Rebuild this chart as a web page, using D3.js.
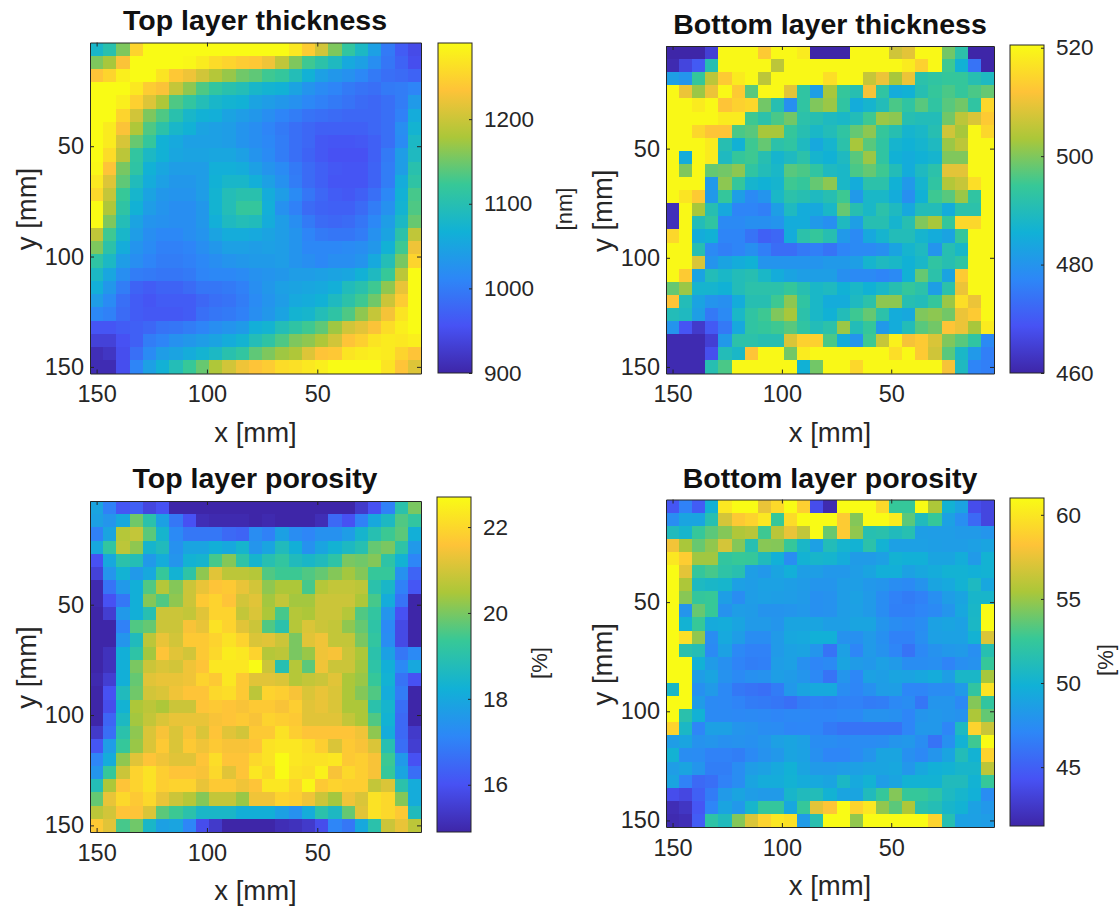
<!DOCTYPE html>
<html>
<head>
<meta charset="utf-8">
<style>
    body { margin: 0; background: #fff; }
    text { font-family: "Liberation Sans", Arial, sans-serif; fill: #262626; }
    .title { font-weight: bold; font-size: 28.5px; fill: #111; text-anchor: middle; }
    .label { font-size: 27.5px; text-anchor: middle; }
    .tick text { font-family: "Liberation Sans", Arial, sans-serif; font-size: 23.5px; fill: #262626; }
    .domain { stroke: #262626; }
    .tick line { stroke: #262626; }
    .cell { shape-rendering: crispEdges; }
</style>
</head>
<body>
<svg id="chart" width="1119" height="906"></svg>
<script src="https://d3js.org/d3.v7.min.js"></script>
<script>
// measurement positions, mm (x axis runs backwards)
var xPositions = [150,144,138,132,126,120,114,108,102,96,90,84,78,72,66,60,54,48,42,36,30,24,18,12,6];
var yPositions = [6,12,18,24,30,36,42,48,54,60,66,72,78,84,90,96,102,108,114,120,126,132,138,144,150];
var axisTicks = [50, 100, 150];

// top layer thickness, nm
var topThickness = [
[1079,1103,1157,1251,1290,1290,1290,1290,1290,1290,1290,1290,1290,1290,1290,1271,1243,1204,1157,1115,1083,1044,998,966,947],
[1157,1177,1232,1290,1290,1290,1290,1286,1274,1259,1251,1243,1239,1224,1193,1157,1126,1107,1087,1056,1044,1021,994,974,951],
[1235,1251,1278,1290,1290,1267,1239,1224,1204,1185,1169,1150,1142,1126,1118,1095,1068,1044,1033,1025,1013,998,986,982,974],
[1290,1290,1290,1271,1243,1232,1196,1165,1134,1115,1103,1095,1079,1072,1068,1048,1029,1017,1009,998,990,986,998,1001,1009],
[1290,1290,1278,1247,1212,1181,1134,1115,1095,1079,1072,1068,1048,1040,1033,1025,1013,1005,998,990,982,978,986,1001,1037],
[1290,1290,1251,1204,1157,1134,1103,1079,1068,1064,1048,1040,1033,1021,1009,1001,990,986,982,978,978,978,986,1005,1060],
[1290,1274,1232,1181,1134,1107,1079,1068,1048,1044,1040,1029,1021,1009,998,986,978,970,970,970,970,978,986,1021,1072],
[1290,1274,1208,1146,1118,1068,1056,1044,1044,1044,1040,1029,1021,1013,1001,986,978,962,959,959,962,970,986,1017,1083],
[1290,1259,1189,1115,1083,1068,1052,1048,1048,1052,1052,1044,1029,1017,1001,986,974,962,955,955,955,970,998,1040,1087],
[1286,1235,1154,1111,1068,1052,1040,1040,1040,1064,1064,1060,1044,1029,1017,998,982,970,962,959,959,974,1001,1040,1103],
[1271,1212,1142,1091,1060,1044,1033,1033,1040,1068,1079,1079,1064,1044,1025,1001,982,970,959,959,959,974,1001,1060,1111],
[1255,1196,1122,1076,1048,1033,1029,1029,1040,1072,1095,1103,1103,1060,1040,1017,994,978,966,962,970,986,1013,1068,1130],
[1290,1181,1111,1068,1040,1029,1021,1021,1033,1072,1095,1118,1118,1064,1025,1005,982,974,970,970,982,1001,1025,1072,1134],
[1290,1157,1095,1048,1029,1025,1021,1021,1033,1064,1087,1095,1091,1060,1040,1021,998,982,978,982,994,1013,1040,1083,1146],
[1193,1126,1079,1040,1021,1013,1013,1021,1029,1048,1060,1060,1056,1048,1040,1029,1009,998,994,994,1001,1025,1048,1107,1193],
[1157,1107,1060,1029,1017,1005,1005,1009,1021,1033,1044,1044,1040,1044,1040,1029,1013,1013,1013,1017,1021,1033,1068,1126,1224],
[1111,1083,1040,1021,1009,1001,1001,1005,1013,1021,1029,1033,1037,1037,1040,1029,1021,1013,1021,1021,1029,1056,1095,1154,1251],
[1083,1052,1021,1001,998,994,994,998,1009,1013,1013,1017,1025,1029,1033,1040,1040,1044,1048,1052,1068,1087,1122,1189,1290],
[1064,1033,1001,974,966,974,974,982,994,994,998,1005,1021,1033,1044,1048,1052,1056,1064,1091,1103,1126,1165,1220,1290],
[1040,1017,986,966,959,966,966,966,978,986,990,1001,1017,1029,1040,1056,1060,1068,1087,1107,1126,1150,1200,1243,1290],
[1013,1005,982,966,962,962,962,966,986,994,998,1005,1021,1033,1048,1072,1076,1095,1111,1134,1165,1196,1228,1267,1290],
[959,959,966,970,978,990,994,1001,1009,1021,1029,1037,1064,1072,1095,1111,1126,1142,1173,1204,1216,1232,1259,1278,1290],
[935,935,955,970,1001,1009,1025,1033,1040,1048,1060,1072,1095,1111,1134,1157,1165,1181,1204,1235,1247,1267,1274,1271,1278],
[912,920,951,986,1017,1040,1048,1060,1072,1083,1103,1115,1142,1157,1173,1181,1212,1235,1239,1267,1274,1278,1274,1251,1235],
[908,908,951,1009,1044,1068,1095,1122,1146,1181,1204,1224,1235,1243,1259,1263,1271,1278,1290,1290,1290,1290,1267,1235,1212]
];

// bottom layer thickness, nm
var bottomThickness = [
[460,460,460,465,520,520,520,513,520,520,518,460,460,460,520,520,520,507,509,520,520,499,492,460,460],
[461,466,470,491,520,520,520,520,505,520,520,520,520,520,520,520,520,520,518,514,520,495,486,474,460],
[482,480,494,505,513,518,520,505,520,520,520,520,516,520,520,506,510,503,510,492,493,494,494,491,489],
[520,510,502,510,520,513,497,520,520,509,493,482,503,494,491,511,493,485,486,491,494,496,494,496,498],
[520,520,518,520,512,514,515,499,491,479,493,500,502,493,485,487,490,496,493,497,493,497,499,493,515],
[520,520,520,520,518,518,495,492,496,499,492,491,489,488,490,495,502,501,491,490,490,499,505,508,513],
[520,520,515,512,512,496,497,503,503,494,491,488,490,493,498,501,494,491,487,488,491,507,503,520,515],
[520,520,520,518,491,486,495,498,492,493,489,484,487,492,503,497,493,487,486,487,489,502,505,520,520],
[520,485,520,518,489,494,495,491,487,489,492,487,486,489,497,502,493,486,485,486,487,500,500,520,520],
[520,500,520,498,499,501,493,490,488,497,496,493,489,488,496,498,495,490,485,489,492,509,509,520,520],
[520,520,520,481,501,494,487,486,487,495,494,498,501,488,485,492,492,486,481,487,493,504,506,516,520],
[520,517,513,481,494,482,478,480,488,492,491,489,491,495,481,488,488,485,479,486,495,497,502,493,520],
[462,520,503,491,484,477,477,476,482,489,485,484,488,498,491,488,492,489,484,490,490,485,492,492,520],
[462,520,490,493,478,478,479,479,480,485,485,481,479,489,482,491,491,487,491,500,503,494,515,515,520],
[515,520,485,486,477,477,474,471,472,485,492,494,491,481,478,484,487,490,490,487,485,483,494,520,520],
[520,520,491,478,476,477,479,476,473,473,475,476,474,477,478,478,479,483,487,489,480,491,488,520,520],
[520,520,508,480,483,485,486,480,480,480,480,480,481,481,482,487,489,488,486,488,493,491,493,520,520],
[520,513,483,490,488,490,491,488,485,483,482,482,482,479,478,478,477,478,486,498,492,483,513,520,520],
[498,502,487,487,486,490,492,492,492,494,491,488,489,486,488,486,488,491,494,492,482,492,510,520,520],
[512,490,483,480,479,485,491,491,495,501,493,488,485,485,489,492,501,501,491,490,494,502,516,510,520],
[490,489,482,475,478,488,493,495,500,503,492,488,486,490,495,498,492,485,484,500,501,499,510,513,520],
[480,469,464,470,475,484,493,494,495,497,493,490,492,502,490,494,481,485,490,497,499,512,510,503,518],
[461,461,461,465,481,492,492,491,491,508,514,514,496,485,480,495,506,519,511,513,508,500,497,493,478],
[461,461,461,468,490,488,512,520,520,499,518,520,520,520,520,520,520,516,520,513,507,497,488,481,476],
[461,461,461,491,496,520,520,520,520,520,486,499,520,520,515,520,520,520,520,520,520,511,489,477,476]
];

// top layer porosity, %
var topPorosity = [
[17.9,17.0,16.1,16.3,15.7,16.0,14.9,14.9,14.9,14.9,14.9,14.9,14.9,14.9,14.9,14.9,14.9,14.9,14.9,14.9,15.4,16.0,17.0,19.0,20.0],
[17.8,17.5,18.0,19.9,19.0,17.8,16.8,16.0,15.1,15.0,15.0,15.0,14.9,15.0,14.9,14.9,14.9,15.1,16.5,16.0,17.0,18.0,18.6,19.6,19.2],
[17.0,17.9,20.6,20.8,19.7,18.4,17.2,16.8,16.8,16.8,16.5,16.4,17.3,17.0,17.8,17.3,17.1,17.4,17.4,17.7,18.4,18.9,19.4,19.7,18.2],
[18.0,19.2,20.7,20.2,18.4,18.7,17.4,17.9,17.9,18.2,18.0,18.4,17.5,17.9,18.7,18.2,17.4,17.9,18.3,18.6,18.9,19.8,20.0,19.1,17.6],
[16.0,18.0,19.0,18.8,17.6,18.1,17.5,18.3,18.4,19.5,20.1,19.1,18.4,18.9,19.2,18.7,18.5,18.7,19.1,20.0,19.9,20.1,19.1,18.3,17.1],
[15.6,17.5,18.3,17.6,18.0,19.3,18.3,19.1,20.2,21.2,20.7,20.7,20.6,19.6,19.4,19.4,19.6,19.8,20.1,20.4,20.1,19.3,19.3,17.4,16.4],
[15.0,16.7,17.6,18.2,19.6,20.6,20.1,20.9,21.3,21.6,21.7,21.3,21.0,20.2,20.5,20.5,19.5,20.6,20.8,20.8,20.7,19.0,18.5,17.0,16.1],
[15.0,16.0,16.8,18.2,20.1,19.6,20.2,20.9,21.7,21.9,21.6,21.0,21.2,20.4,20.8,20.4,20.4,20.9,20.9,20.9,20.5,19.5,18.1,16.7,14.9],
[14.9,15.5,17.6,18.2,18.9,20.9,20.9,20.8,21.2,21.9,21.9,20.8,21.1,20.5,19.5,20.6,20.5,20.9,20.9,20.6,19.6,19.2,17.5,16.0,14.9],
[14.9,14.9,17.0,19.6,19.8,20.9,20.9,21.5,21.3,22.2,21.9,21.2,20.9,19.6,19.0,20.6,21.1,20.9,20.8,20.2,19.8,19.1,17.2,15.8,14.9],
[14.9,14.9,17.5,18.7,20.7,21.3,21.0,21.7,21.7,21.9,22.2,21.9,21.1,21.2,20.9,20.0,21.2,21.4,20.8,20.8,20.0,19.2,17.3,15.8,14.9],
[14.9,15.2,18.2,19.1,20.4,21.6,21.2,21.0,21.7,22.0,22.4,22.3,21.9,20.6,20.7,20.0,20.3,21.4,21.5,20.9,20.5,19.0,17.8,16.8,17.2],
[14.9,15.2,18.2,20.0,20.9,21.1,21.0,21.4,21.6,22.3,22.3,22.3,22.7,20.9,18.9,20.6,19.7,21.4,20.9,20.9,20.4,19.1,18.2,17.2,18.0],
[15.0,15.5,18.2,19.8,21.2,21.3,21.3,21.4,21.9,21.7,22.3,21.7,21.2,21.2,21.1,20.6,20.8,20.9,21.2,20.5,20.3,19.3,18.3,16.7,16.0],
[14.9,16.0,18.7,19.9,21.0,21.1,21.4,21.6,21.6,22.0,22.1,21.7,20.7,21.9,21.8,21.5,21.1,21.3,21.1,20.5,20.1,19.6,18.1,16.9,14.9],
[14.9,15.9,18.3,20.5,20.7,20.5,20.9,20.9,21.6,21.7,21.6,21.5,21.7,21.7,21.5,21.8,21.2,21.3,21.1,20.5,20.5,19.0,18.4,16.6,14.9],
[14.9,16.4,18.6,20.4,20.8,21.1,21.3,21.3,21.3,21.5,21.6,21.7,21.5,21.9,21.8,21.7,21.2,21.2,21.2,20.8,20.5,19.6,18.3,16.5,14.9],
[15.4,16.6,19.0,20.2,21.1,21.5,21.1,21.5,21.1,21.6,21.2,21.0,21.7,21.7,22.2,21.8,21.6,21.6,21.6,21.6,21.4,20.2,18.1,16.5,15.4],
[16.1,17.7,19.3,20.3,21.1,21.7,21.1,21.7,21.4,21.7,21.5,21.5,21.6,22.2,22.3,22.3,22.1,21.8,21.1,21.7,21.5,21.1,18.9,16.6,15.5],
[17.1,18.1,20.2,21.2,21.6,21.4,21.2,21.2,21.6,22.1,21.6,21.6,22.0,22.2,22.7,22.3,22.2,22.2,22.3,21.7,21.8,21.5,19.4,17.6,16.0],
[17.5,19.3,20.9,21.9,22.2,21.8,21.6,21.6,21.5,22.0,21.2,21.6,22.3,22.0,22.7,22.2,22.1,22.5,21.5,22.0,21.8,21.5,19.3,17.9,16.6],
[18.8,20.5,21.6,21.9,22.2,21.8,21.9,21.9,21.3,21.7,21.7,21.4,21.6,22.3,22.3,21.9,22.6,21.7,21.9,21.8,21.8,20.8,21.1,19.0,18.1],
[19.8,21.3,22.0,21.7,22.0,21.3,20.9,20.6,20.1,20.8,20.8,20.3,21.4,21.4,21.9,21.8,21.4,20.9,20.4,21.4,21.1,22.2,22.0,20.1,18.1],
[20.7,21.0,21.6,21.6,21.1,19.7,19.4,19.0,18.5,18.5,18.5,18.2,18.2,18.2,17.8,17.4,18.1,19.0,18.6,19.8,21.2,22.2,22.0,21.7,18.7],
[21.7,21.2,19.5,19.9,18.5,17.8,17.9,17.1,15.9,15.4,14.9,14.9,14.9,14.9,15.1,15.2,15.4,15.9,17.1,16.8,18.0,19.0,20.9,21.3,20.7]
];

// bottom layer porosity, %
var bottomPorosity = [
[44.5,46.8,44.8,49.9,60,61,61,57.5,59.3,61,58.8,44,41.8,61,61,61,59.3,52.5,52.5,61,55.5,50,48.9,44,43.5],
[47.5,49,49,51.5,56.8,58.5,59,60,52.5,59.4,61,61,61,58.6,54.5,61,61,60.2,53.5,51,52.5,48.8,47.6,45.5,43.5],
[51,50.3,52.5,53.5,54.5,55.6,55.9,52.8,55.9,57.5,56.2,61,53.8,58.6,54.8,51.5,51.7,51,51.5,48.6,48.5,48.5,48.3,48.3,48],
[57.8,55.4,53.8,54.8,56.8,54.5,51.5,54.6,54.5,52.5,50.5,48.7,51.2,50.2,50,51.8,50,48.7,48.7,48.7,48.6,48.5,48.5,48.7,49],
[60,58.7,55.2,55.2,52.3,52.6,52.5,51,49.8,47.5,50,50.4,50.2,49.5,48.4,48.4,48.7,50,49.8,49.8,49,49,49.6,48.3,50],
[61,57.3,52.4,53,52,51.6,48.6,48.2,49,49.7,48.6,48.6,48.2,48.2,48.5,49,49.7,49.7,48.8,49.2,49.5,50,50,49.8,50],
[61,55.5,50.8,50.5,50.3,48.7,48.5,48.8,48.8,48.6,48.4,48,48,48.5,48.6,48.2,48,47.5,47.3,47.9,49,49.3,50,50.8,49.2],
[61,54.6,52.4,52.6,48.6,47.5,48.5,48.7,48.6,48.5,48.3,47.7,47.8,48.5,48.8,48.3,47.5,46.8,46.5,46.8,47.6,48.5,49,50.4,50.4],
[61,48,53.8,52.6,47.8,48.5,48.4,47.9,47.9,48,48.2,47.7,47.8,48.5,48.7,48.3,47.5,46.7,46.7,47,47.3,48,49.2,50.5,61],
[61,50,52.6,49.4,49.5,49,48.3,48.3,48,49,49,49,48.6,48.6,49,49,48,47.5,47.2,47.5,48.8,49,48.8,50.6,61],
[61,59.6,54.8,47.5,49.3,48.5,47.5,47.5,48.3,49.2,49.3,49.8,49.8,47.8,47.7,48.3,47.7,46.8,46.8,47.6,48.7,48.8,48.8,50,57],
[61,51.7,51.3,47.3,48.8,47.2,46.8,46.8,48.3,48.8,48.9,48,46,48.7,47,48.3,47.8,47,46,47.2,47.8,48.2,48.3,47.6,51.5],
[61,61,49.9,48.4,47.7,46.9,46.6,46.7,48.5,48.7,47.7,47,47.3,49,48.4,48.2,48.7,48.3,47.5,47.5,47.6,46.9,47.6,47.8,52.5],
[61,61,48.5,49,47.8,47.3,47.7,47.8,48.6,48.4,48,47.2,46,48,47.1,48.8,48.6,49,48.9,49.2,49.5,48.6,50.5,50.5,55.3],
[50.6,61,47.7,48.3,47.2,46.3,46,45.8,46.5,48.2,49,49.3,49.3,47.5,47,47.7,48.5,48.6,47.1,47,47.4,47.4,48.3,52.2,59.8],
[61,61,48.4,47.3,47.2,46.9,46.5,46.4,46.2,45.8,46.5,46.7,46.6,46.8,46.8,46.5,46.6,47.2,47.5,46.2,48,48,47.2,54.5,52.3],
[61,51.7,49.9,47.3,47.3,47.2,47.3,47.2,47,47.2,47.2,47,47,47.2,47.2,47.8,47.8,47.7,47,48,48.2,48,47.8,55.5,53.7],
[59,50.6,47,48.7,48.7,48,47.8,47.5,47.4,47,47.1,47,46.4,46,46,46,46,46,47,48.2,48.2,47,50.8,59,56.4],
[48.5,49,47.8,48,47.7,47.8,47.7,48,48.7,49,48.7,47.5,47.5,47.3,47.4,47.4,47.5,48,48.2,47.5,46,47.7,50,52.8,61],
[50,47.5,47.4,46.8,46.8,46.6,47.3,47.8,48.2,49,48.8,47.7,47,47,47.4,48,49,49,47.7,47.2,48,49,51.2,50,59],
[48.5,49,48,46.6,46.6,47.5,48.5,48.8,49.3,49.9,49,48.3,48.3,48.5,48.7,49,49,49.2,48.1,49.2,49.8,50,50.4,50.4,56],
[49,46.8,45.5,45.8,46.8,47.5,49,49.5,49.5,50,49.5,49.3,49,50.6,49.3,50,48.5,49,50,50,50,51,51,50,52.5],
[44,43.6,45,46.5,48.3,49,48.5,48.3,48.3,50.4,51,51.2,50,49,49,51,52.5,54.5,52.5,52.5,52,50.8,50.3,49.8,47.5],
[42,42.5,44.5,47,49,48.2,50.3,52.4,52.4,49.2,52.5,57.3,58.3,61,59,60,54.8,53.5,55.5,51.7,51.3,50.4,50,48.8,48.2],
[41.8,42,44.8,52,51,54.5,57,59,60,59.7,48.4,51.6,61,61,54.8,61,61,61,61,61,59,51.5,48.8,48.7,48.5]
];

// colorbar ranges and ticks
var topThicknessRange = [900, 1290], topThicknessTicks = [900, 1000, 1100, 1200];
var bottomThicknessRange = [460, 520.5], bottomThicknessTicks = [460, 480, 500, 520];
var topPorosityRange = [14.9, 22.7], topPorosityTicks = [16, 18, 20, 22];
var bottomPorosityRange = [41.5, 61], bottomPorosityTicks = [45, 50, 55, 60];

// parula colormap
var parula = ["#3e26a8", "#4752f4", "#2d87f7", "#11b1d6", "#37c897", "#abc739", "#fec338", "#f9fb15"];

var svg = d3.select("#chart");
var defs = svg.append("defs");

var grad = defs.append("linearGradient").attr("id", "parula")
    .attr("x1", 0).attr("y1", 1).attr("x2", 0).attr("y2", 0);
parula.forEach(function(c, i) {
    grad.append("stop").attr("offset", i / (parula.length - 1)).attr("stop-color", c);
});

function drawPanel(p) {
    var x = d3.scaleLinear().domain([153, 3]).range([p.left, p.right]);
    var y = d3.scaleLinear().domain([3, 153]).range([p.top, p.bottom]);
    var colorT = d3.scaleLinear().domain(p.range).range([0, 1]).clamp(true);
    var colorStops = d3.scaleLinear()
        .domain(parula.map(function(c, i) { return i / (parula.length - 1); }))
        .range(parula);

    var g = svg.append("g");

    p.values.forEach(function(row, r) {
        g.append("g").selectAll("rect")
            .data(row)
            .join("rect")
            .attr("class", "cell")
            .attr("x", function(d, c) { return x(xPositions[c] + 3); })
            .attr("y", y(yPositions[r] - 3))
            .attr("width", function(d, c) { return x(xPositions[c] - 3) - x(xPositions[c] + 3); })
            .attr("height", y(yPositions[r] + 3) - y(yPositions[r] - 3))
            .attr("fill", function(d) { return colorStops(colorT(d)); });
    });

    // box with ticks on all four sides
    g.append("g").attr("transform", "translate(0," + p.bottom + ")")
        .call(d3.axisBottom(x).tickValues(axisTicks).tickSizeInner(-4).tickSizeOuter(0).tickPadding(12));
    g.append("g").attr("transform", "translate(" + p.left + ",0)")
        .call(d3.axisLeft(y).tickValues(axisTicks).tickSizeInner(-4).tickSizeOuter(0).tickPadding(6));
    g.append("g").attr("transform", "translate(0," + p.top + ")")
        .call(d3.axisTop(x).tickValues(axisTicks).tickSizeInner(-4).tickSizeOuter(0).tickFormat(""));
    g.append("g").attr("transform", "translate(" + p.right + ",0)")
        .call(d3.axisRight(y).tickValues(axisTicks).tickSizeInner(-4).tickSizeOuter(0).tickFormat(""));

    g.append("text").attr("class", "title").attr("x", p.titleX).attr("y", p.titleY).text(p.title);
    g.append("text").attr("class", "label").attr("x", (p.left + p.right) / 2).attr("y", p.bottom + 68).text("x [mm]");
    g.append("text").attr("class", "label")
        .attr("transform", "translate(" + (p.left - 54) + "," + ((p.top + p.bottom) / 2 + 1) + ") rotate(-90)")
        .text("y [mm]");

    // colorbar
    var c = d3.scaleLinear().domain(p.range).range([p.barBottom, p.barTop]);
    g.append("rect")
        .attr("x", p.barLeft).attr("y", p.barTop)
        .attr("width", 34).attr("height", p.barBottom - p.barTop)
        .attr("fill", "url(#parula)").attr("stroke", "#262626");
    g.append("g").attr("transform", "translate(" + (p.barLeft + 34) + ",0)")
        .call(d3.axisRight(c).tickValues(p.ticks).tickFormat(d3.format("d")).tickSizeInner(-3).tickSizeOuter(0).tickPadding(12))
        .call(function(a) { a.selectAll("text").style("font-size", "22.5px"); })
        .select(".domain").remove();

    g.append("text").attr("class", "label")
        .style("font-size", "22px")
        .attr("transform", "translate(" + p.unitX + "," + p.unitY + ") rotate(-90)")
        .text(p.unit);
}

drawPanel({ title: "Top layer thickness", values: topThickness, range: topThicknessRange, ticks: topThicknessTicks, unit: "[nm]",
    left: 90, right: 421, top: 42.5, bottom: 373.5, titleX: 255, titleY: 30,
    barLeft: 438, barTop: 43, barBottom: 373, unitX: 572, unitY: 209 });
drawPanel({ title: "Bottom layer thickness", values: bottomThickness, range: bottomThicknessRange, ticks: bottomThicknessTicks, unit: "",
    left: 666, right: 994, top: 46, bottom: 373.5, titleX: 830, titleY: 34,
    barLeft: 1010, barTop: 45, barBottom: 373, unitX: 1140, unitY: 210 });
drawPanel({ title: "Top layer porosity", values: topPorosity, range: topPorosityRange, ticks: topPorosityTicks, unit: "[%]",
    left: 90, right: 421, top: 501, bottom: 832, titleX: 255, titleY: 488,
    barLeft: 437, barTop: 497, barBottom: 832, unitX: 547, unitY: 663 });
drawPanel({ title: "Bottom layer porosity", values: bottomPorosity, range: bottomPorosityRange, ticks: bottomPorosityTicks, unit: "[%]",
    left: 666, right: 994, top: 499.5, bottom: 827, titleX: 830, titleY: 488,
    barLeft: 1010, barTop: 498, barBottom: 826, unitX: 1113, unitY: 660 });
</script>
</body>
</html>
